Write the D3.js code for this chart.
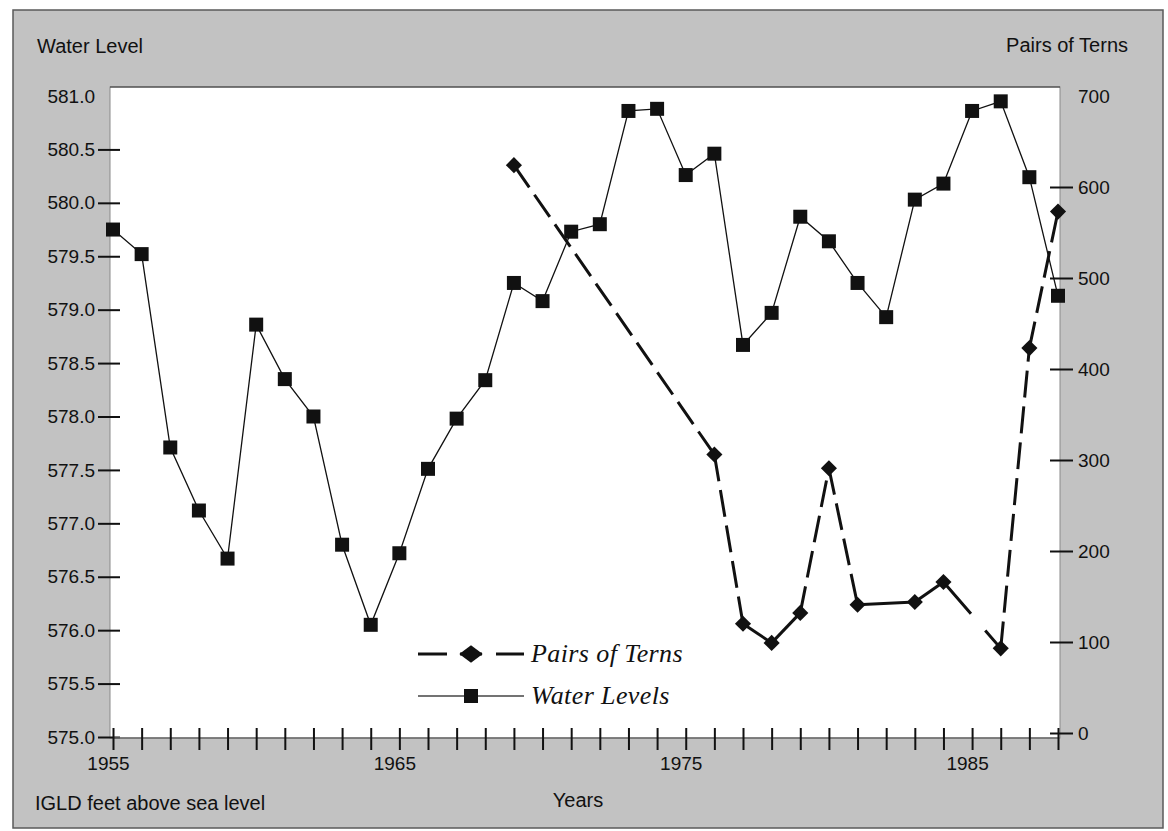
<!DOCTYPE html>
<html>
<head>
<meta charset="utf-8">
<script src="https://cdn.jsdelivr.net/npm/d3@7"></script>
<style>
  html, body { margin: 0; padding: 0; background: #ffffff; }
  svg { display: block; }
  .sans { font-family: "Liberation Sans", Arial, Helvetica, sans-serif; fill: #111; }
  .serif { font-family: "Liberation Serif", "Times New Roman", serif; font-style: italic; fill: #111; }
</style>
</head>
<body>
<svg id="chart" width="1168" height="831"></svg>
<script>
// Lake water levels (IGLD feet above sea level), one reading per year
const waterYears = [1955, 1956, 1957, 1958, 1959, 1960, 1961, 1962, 1963, 1964,
                    1965, 1966, 1967, 1968, 1969, 1970, 1971, 1972, 1973, 1974,
                    1975, 1976, 1977, 1978, 1979, 1980, 1981, 1982, 1983, 1984,
                    1985, 1986, 1987, 1988];
const waterLevels = [579.75, 579.52, 577.71, 577.12, 576.67, 578.86, 578.35, 578.00, 576.80, 576.05,
                     576.72, 577.51, 577.98, 578.34, 579.25, 579.08, 579.73, 579.80, 580.86, 580.88,
                     580.26, 580.46, 578.67, 578.97, 579.87, 579.64, 579.25, 578.93, 580.03, 580.18,
                     580.86, 580.95, 580.24, 579.13];

// Nesting pairs of terns, surveyed years only
const ternYears = [1969, 1976, 1977, 1978, 1979, 1980, 1981, 1983, 1984, 1986, 1987, 1988];
const ternPairs = [624, 306, 120, 99, 132, 291, 141, 144, 166, 93, 423, 573];
// How each connecting segment is stroked
const ternSegmentStyles = ["dashed", "dashed", "solid", "solid", "dashed", "dashed",
                           "solid", "solid", "broken", "dashed", "dashed"];

// Axis ticks and labels
const leftTicks = [575.0, 575.5, 576.0, 576.5, 577.0, 577.5, 578.0, 578.5, 579.0, 579.5, 580.0, 580.5, 581.0];
const rightTicks = [0, 100, 200, 300, 400, 500, 600, 700];
const yearTicks = [1955, 1956, 1957, 1958, 1959, 1960, 1961, 1962, 1963, 1964, 1965, 1966,
                   1967, 1968, 1969, 1970, 1971, 1972, 1973, 1974, 1975, 1976, 1977, 1978,
                   1979, 1980, 1981, 1982, 1983, 1984, 1985, 1986, 1987, 1988];
const yearLabels = [1955, 1965, 1975, 1985];
const legendItems = ["Pairs of Terns", "Water Levels"];

const svg = d3.select("#chart");
const ink = "#111";

const x = d3.scaleLinear().domain([1955, 1988]).range([113, 1058]);
const yL = d3.scaleLinear().domain([575, 581]).range([737, 96]);
const yR = d3.scaleLinear().domain([0, 700]).range([733, 96]);

// Grey panel and white plotting field
svg.append("rect").attr("x", 13).attr("y", 10).attr("width", 1150).attr("height", 818)
  .attr("fill", "#c2c2c2").attr("stroke", "#5a5a5a").attr("stroke-width", 1.5);
svg.append("rect").attr("x", 110).attr("y", 87).attr("width", 950).attr("height", 651)
  .attr("fill", "#ffffff").attr("stroke", "#8a8a8a").attr("stroke-width", 1);
svg.append("line").attr("x1", 110).attr("x2", 1060).attr("y1", 87).attr("y2", 87)
  .attr("stroke", "#333").attr("stroke-width", 1);

// Left axis (water level)
const leftAxis = svg.append("g").attr("transform", "translate(109,0)")
  .call(d3.axisLeft(yL).tickValues(leftTicks).tickFormat(d3.format(".1f")).tickSize(0).tickPadding(14));
leftAxis.select(".domain").remove();
leftAxis.selectAll("text").attr("class", "sans").style("font-size", "19px")
  .attr("font-family", null).attr("fill", ink);
leftAxis.selectAll(".tick").append("line")
  .attr("x1", -11).attr("x2", 11)
  .attr("stroke", ink).attr("stroke-width", 2)
  .style("display", d => d === 581 ? "none" : null);

// Right axis (pairs of terns)
const rightAxis = svg.append("g").attr("transform", "translate(1061,0)")
  .call(d3.axisRight(yR).tickValues(rightTicks).tickSize(0).tickPadding(17));
rightAxis.select(".domain").remove();
rightAxis.selectAll("text").attr("class", "sans").style("font-size", "19px")
  .attr("font-family", null).attr("fill", ink);
rightAxis.selectAll(".tick").append("line")
  .attr("x1", -11).attr("x2", 12)
  .attr("stroke", ink).attr("stroke-width", 2)
  .style("display", d => d === 700 ? "none" : null);

// Bottom axis (years)
svg.append("line").attr("x1", x(1955)).attr("x2", x(1988)).attr("y1", 738).attr("y2", 738)
  .attr("stroke", "#6a6a6a").attr("stroke-width", 1.5);
const bottomAxis = svg.append("g").attr("transform", "translate(0,738)")
  .call(d3.axisBottom(x).tickValues(yearTicks).tickSize(0)
    .tickFormat(d => yearLabels.includes(d) ? String(d) : ""));
bottomAxis.select(".domain").remove();
bottomAxis.selectAll("text").attr("class", "sans").style("font-size", "19px")
  .attr("font-family", null).attr("fill", ink).attr("y", 19).attr("dx", -5);
bottomAxis.selectAll(".tick").append("line")
  .attr("y1", -10).attr("y2", 12)
  .attr("stroke", ink).attr("stroke-width", 2);

// Axis titles
svg.append("text").attr("class", "sans").attr("x", 37).attr("y", 53).style("font-size", "20px").text("Water Level");
svg.append("text").attr("class", "sans").attr("x", 1128).attr("y", 52).attr("text-anchor", "end")
  .style("font-size", "20px").text("Pairs of Terns");
svg.append("text").attr("class", "sans").attr("x", 35).attr("y", 810).style("font-size", "20px")
  .text("IGLD feet above sea level");
svg.append("text").attr("class", "sans").attr("x", 578).attr("y", 807).attr("text-anchor", "middle")
  .style("font-size", "20px").text("Years");

// Water level series: thin solid line with square markers
const water = waterYears.map((yr, i) => ({ yr, v: waterLevels[i] }));
svg.append("path").datum(water)
  .attr("fill", "none").attr("stroke", ink).attr("stroke-width", 1.3)
  .attr("d", d3.line().x(d => x(d.yr)).y(d => yL(d.v)));
svg.append("g").selectAll("path").data(water).join("path")
  .attr("transform", d => `translate(${x(d.yr)},${yL(d.v)})`)
  .attr("d", d3.symbol(d3.symbolSquare, 196)())
  .attr("fill", ink);

// Tern series: heavy segments, dashed or solid, with diamond markers
const terns = ternYears.map((yr, i) => ({ yr, v: ternPairs[i] }));
const segs = d3.pairs(terns).map((p, i) => ({ a: p[0], b: p[1], style: ternSegmentStyles[i] }));
svg.append("g").selectAll("line").data(segs).join("line")
  .attr("x1", d => x(d.a.yr)).attr("y1", d => yR(d.a.v))
  .attr("x2", d => x(d.b.yr)).attr("y2", d => yR(d.b.v))
  .attr("stroke", ink).attr("stroke-width", 3)
  .attr("stroke-dasharray", d => {
    if (d.style === "dashed") return "27,9";
    if (d.style === "broken") {
      const L = Math.hypot(x(d.b.yr) - x(d.a.yr), yR(d.b.v) - yR(d.a.v));
      return `${(L * 0.48).toFixed(1)},${(L * 0.25).toFixed(1)},${L.toFixed(1)}`;
    }
    return null;
  });
svg.append("g").selectAll("path").data(terns).join("path")
  .attr("transform", d => `translate(${x(d.yr)},${yR(d.v)}) rotate(45)`)
  .attr("d", d3.symbol(d3.symbolSquare, 130)())
  .attr("fill", ink);

// Legend
const legend = svg.append("g");
// dashed sample with diamond
legend.append("line").attr("x1", 418).attr("x2", 447).attr("y1", 654).attr("y2", 654)
  .attr("stroke", ink).attr("stroke-width", 3);
legend.append("line").attr("x1", 496).attr("x2", 524).attr("y1", 654).attr("y2", 654)
  .attr("stroke", ink).attr("stroke-width", 3);
legend.append("line").attr("x1", 460).attr("x2", 482).attr("y1", 654).attr("y2", 654)
  .attr("stroke", ink).attr("stroke-width", 3);
legend.append("path").attr("transform", "translate(471,654) scale(1.35,1) rotate(45)")
  .attr("d", d3.symbol(d3.symbolSquare, 150)()).attr("fill", ink);
// solid sample with square
legend.append("line").attr("x1", 418).attr("x2", 524).attr("y1", 696).attr("y2", 696)
  .attr("stroke", "#444").attr("stroke-width", 1.3);
legend.append("path").attr("transform", "translate(471,696)")
  .attr("d", d3.symbol(d3.symbolSquare, 196)()).attr("fill", ink);
legend.selectAll("text").data(legendItems).join("text")
  .attr("class", "serif")
  .attr("x", 531).attr("y", (d, i) => i === 0 ? 662 : 704)
  .style("font-size", "26px").style("letter-spacing", "0.4px")
  .text(d => d);
</script>
</body>
</html>
